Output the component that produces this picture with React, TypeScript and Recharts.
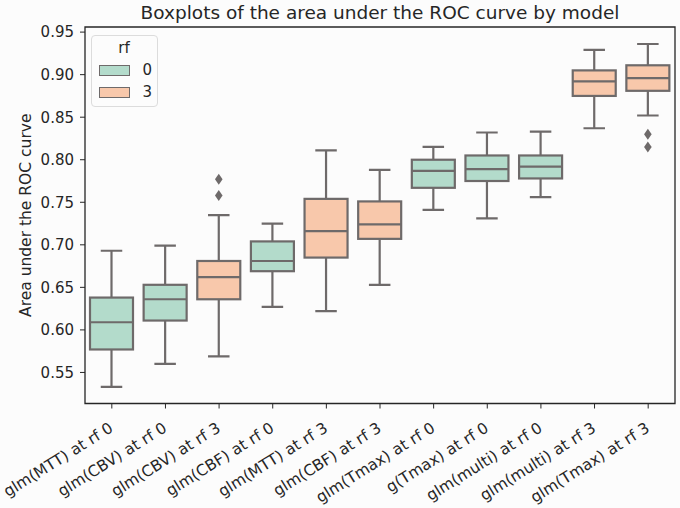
import {
  ComposedChart,
  Bar,
  XAxis,
  YAxis,
  Legend,
  ReferenceArea,
} from "recharts";

const models = [
  "glm(MTT) at rf 0",
  "glm(CBV) at rf 0",
  "glm(CBV) at rf 3",
  "glm(CBF) at rf 0",
  "glm(MTT) at rf 3",
  "glm(CBF) at rf 3",
  "glm(Tmax) at rf 0",
  "g(Tmax) at rf 0",
  "glm(multi) at rf 0",
  "glm(multi) at rf 3",
  "glm(Tmax) at rf 3",
];
const rfGroup = ["0", "0", "3", "0", "3", "3", "0", "0", "0", "3", "3"];
const whiskerLow = [0.533, 0.56, 0.569, 0.627, 0.622, 0.653, 0.741, 0.731, 0.756, 0.837, 0.852];
const q1 = [0.577, 0.611, 0.636, 0.669, 0.685, 0.707, 0.767, 0.775, 0.778, 0.875, 0.881];
const median = [0.609, 0.636, 0.662, 0.681, 0.716, 0.724, 0.787, 0.789, 0.792, 0.892, 0.896];
const q3 = [0.638, 0.653, 0.681, 0.704, 0.754, 0.751, 0.8, 0.805, 0.805, 0.905, 0.911];
const whiskerHigh = [0.693, 0.699, 0.735, 0.725, 0.811, 0.788, 0.815, 0.832, 0.833, 0.929, 0.936];
const outliers = [[], [], [0.777, 0.758], [], [], [], [], [], [], [], [0.83, 0.815]];
const yTicks = [0.55, 0.6, 0.65, 0.7, 0.75, 0.8, 0.85, 0.9, 0.95];
const yDomain = [0.5135, 0.956];
const rfLevels = ["0", "3"];

const FILLS: any = { "0": "#b3dbcb", "3": "#f8c8ab" };
const EDGE = "#6e6a6a";
const AXIS = "#262626";
const FONT = "'DejaVu Sans', sans-serif";

const data = models.map((m, i) => ({
  model: m,
  rf: rfGroup[i],
  range: [whiskerLow[i], whiskerHigh[i]],
  q1: q1[i],
  median: median[i],
  q3: q3[i],
  outliers: outliers[i],
}));

function BoxShape(props: any) {
  const { x, y, width, height, payload } = props;
  const [lo, hi] = payload.range;
  const top = Math.min(y, y + height);
  const h = Math.abs(height);
  // value -> pixel, using the bar's own scaled extent
  const py = (v: number) => top + ((hi - v) / (hi - lo)) * h;
  const cx = x + width / 2;
  const cap = width / 4;
  const yq3 = py(payload.q3);
  const yq1 = py(payload.q1);
  const sw = 2.2;
  return (
    <g>
      <line x1={cx} x2={cx} y1={py(hi)} y2={yq3} stroke={EDGE} strokeWidth={sw} />
      <line x1={cx} x2={cx} y1={yq1} y2={py(lo)} stroke={EDGE} strokeWidth={sw} />
      <line x1={cx - cap} x2={cx + cap} y1={py(hi)} y2={py(hi)} stroke={EDGE} strokeWidth={sw} />
      <line x1={cx - cap} x2={cx + cap} y1={py(lo)} y2={py(lo)} stroke={EDGE} strokeWidth={sw} />
      <rect x={x} y={yq3} width={width} height={yq1 - yq3} fill={FILLS[payload.rf]} stroke={EDGE} strokeWidth={sw} />
      <line x1={x} x2={x + width} y1={py(payload.median)} y2={py(payload.median)} stroke={EDGE} strokeWidth={sw} />
      {payload.outliers.map((o: number, k: number) => {
        const oy = py(o);
        return (
          <polygon
            key={k}
            points={`${cx},${oy - 5.5} ${cx + 3.8},${oy} ${cx},${oy + 5.5} ${cx - 3.8},${oy}`}
            fill={EDGE}
          />
        );
      })}
    </g>
  );
}

function XTick(props: any) {
  const { x, y, payload } = props;
  return (
    <g transform={`translate(${x},${y})`}>
      <text
        transform="rotate(-32)"
        x={-4.5}
        dy="0.76em"
        textAnchor="end"
        fontSize={15.5}
        fontFamily={FONT}
        fill={AXIS}
      >
        {payload.value}
      </text>
    </g>
  );
}

function YTick(props: any) {
  const { x, y, payload } = props;
  return (
    <text x={x} y={y} dy="0.355em" textAnchor="end" fontSize={15} fontFamily={FONT} fill={AXIS}>
      {payload.value.toFixed(2)}
    </text>
  );
}

function RfLegend() {
  return (
    <div
      style={{
        border: "1px solid #dcdcdc",
        borderRadius: 4,
        background: "#fcfcfc",
        width: 67,
        height: 72,
        boxSizing: "border-box",
        fontFamily: FONT,
        fontSize: 15,
        color: AXIS,
        padding: "3px 0 0 7px",
      }}
    >
      <div style={{ textAlign: "center", marginLeft: -7, lineHeight: "18px", marginBottom: 2.5 }}>rf</div>
      {rfLevels.map((lv) => (
        <div key={lv} style={{ display: "flex", alignItems: "center", height: 22 }}>
          <span
            style={{
              display: "inline-block",
              width: 31,
              height: 11,
              boxSizing: "border-box",
              background: FILLS[lv],
              border: `1px solid ${EDGE}`,
              marginRight: 13,
            }}
          />
          <span>{lv}</span>
        </div>
      ))}
    </div>
  );
}

export default function App() {
  return (
    <div style={{ position: "fixed", left: 0, top: 0, width: 680, height: 508, background: "#fcfcfc" }}>
      <div
        style={{
          position: "absolute",
          left: 85,
          width: 590,
          top: 1,
          textAlign: "center",
          fontFamily: FONT,
          fontSize: 18.5,
          lineHeight: "24px",
          color: AXIS,
          zIndex: 2,
        }}
      >
        Boxplots of the area under the ROC curve by model
      </div>
      <ComposedChart
        width={680}
        height={508}
        data={data}
        margin={{ top: 27, right: 5, bottom: 0, left: 0 }}
      >
        <XAxis
          dataKey="model"
          interval={0}
          height={104.5}
          tickSize={5}
          tickMargin={10}
          tick={<XTick />}
          tickLine={{ stroke: AXIS }}
          axisLine={false}
        />
        <YAxis
          type="number"
          domain={yDomain}
          ticks={yTicks}
          allowDataOverflow
          width={85}
          tickSize={5}
          tickMargin={6}
          tick={<YTick />}
          tickLine={{ stroke: AXIS }}
          axisLine={false}
          label={{
            content: (p: any) => {
              const vb = p.viewBox;
              const cy = vb.y + vb.height / 2;
              return (
                <text
                  x={25}
                  y={cy}
                  transform={`rotate(-90, 25, ${cy})`}
                  textAnchor="middle"
                  dy="0.355em"
                  fontSize={15.5}
                  fontFamily={FONT}
                  fill={AXIS}
                >
                  Area under the ROC curve
                </text>
              );
            },
          }}
        />
        <Legend
          layout="horizontal"
          verticalAlign="middle"
          align="center"
          content={<RfLegend />}
          wrapperStyle={{ position: "absolute", top: 34.5, left: 90.5, width: 67, height: 72 }}
        />
        <Bar dataKey="range" barSize={43} shape={<BoxShape />} isAnimationActive={false} />
        <ReferenceArea
          y1={yDomain[0]}
          y2={yDomain[1]}
          fill="none"
          fillOpacity={0}
          stroke={AXIS}
          strokeWidth={1.3}
          ifOverflow="visible"
        />
      </ComposedChart>
    </div>
  );
}
